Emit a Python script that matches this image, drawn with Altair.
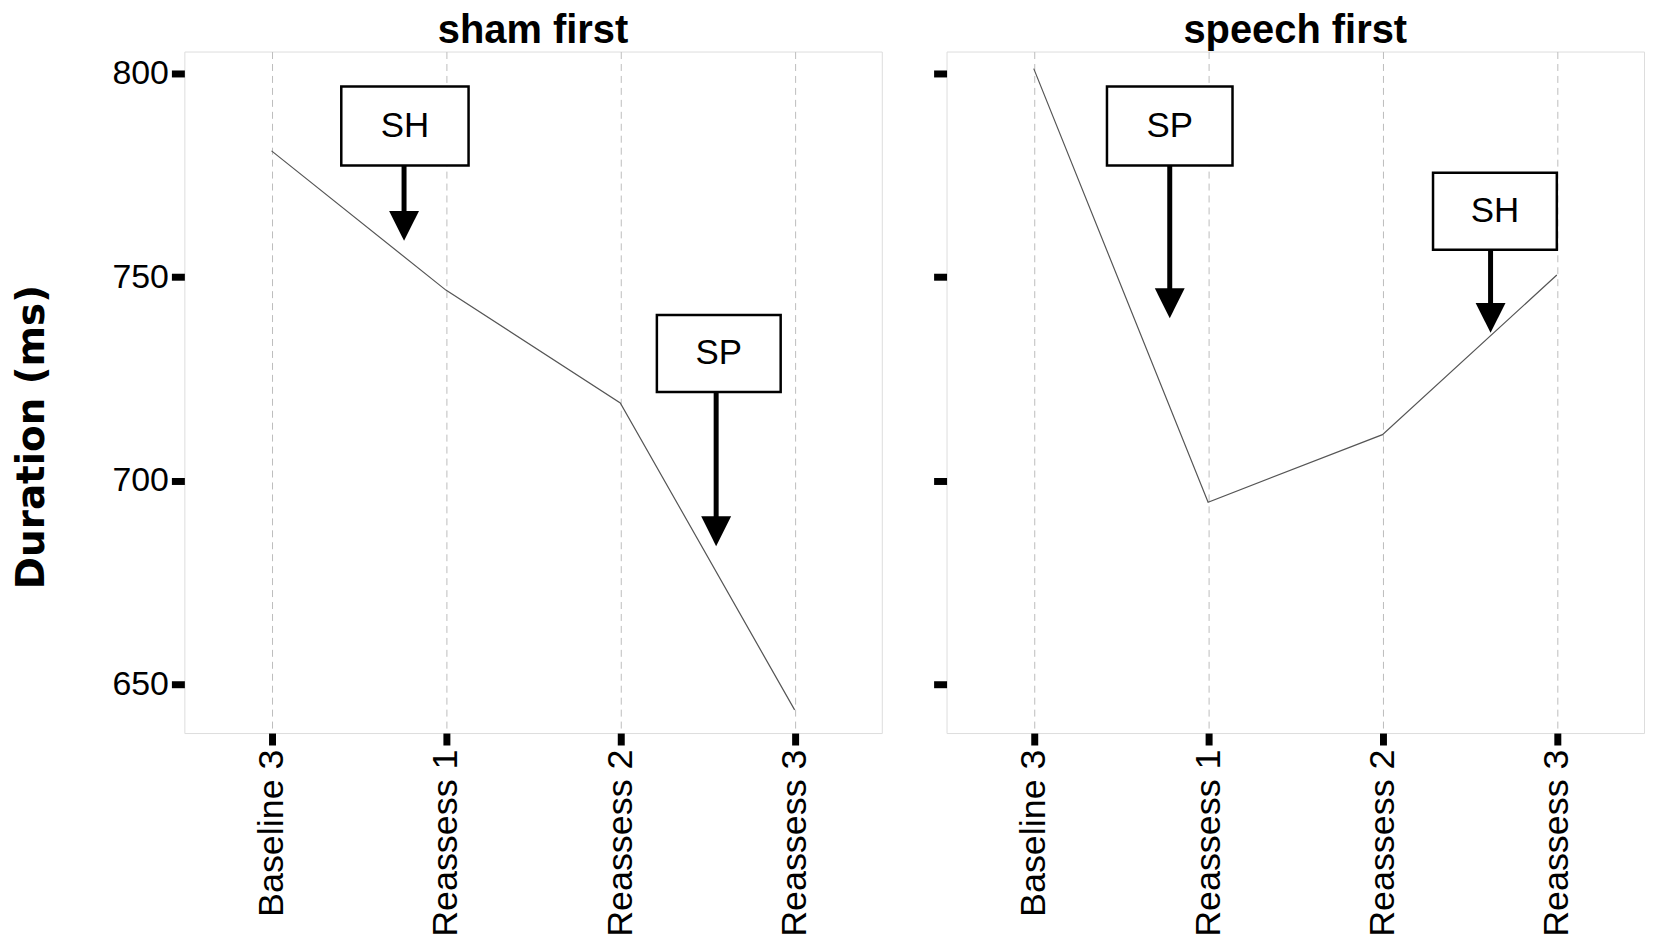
import altair as alt
import pandas as pd

# ---------------- data ----------------
categories = ["Baseline 3", "Reassess 1", "Reassess 2", "Reassess 3"]
panel_titles = ["sham first", "speech first"]
sham_first_ms = [781.0, 746.8, 719.1, 643.7]
speech_first_ms = [801.2, 694.7, 711.3, 750.5]

y_ticks = [650, 700, 750, 800]
y_domain = [638, 805.4]

# annotation boxes (data units: x = category index, y = ms)
sham_ann_labels = ["SH", "SP"]
sham_ann_x_start = [0.40, 2.21]
sham_ann_x_end = [1.13, 2.92]
sham_ann_y_top = [796.8, 740.7]
sham_ann_y_bottom = [777.4, 721.8]
sham_arrow_x = [0.76, 2.55]
sham_arrow_tip = [758.9, 683.9]

speech_ann_labels = ["SP", "SH"]
speech_ann_x_start = [0.42, 2.29]
speech_ann_x_end = [1.14, 3.00]
speech_ann_y_top = [796.8, 775.6]
speech_ann_y_bottom = [777.4, 756.7]
speech_arrow_x = [0.78, 2.62]
speech_arrow_tip = [739.9, 736.3]

# ---------------- helpers ----------------
PLOT_W = 700
PLOT_H = 684

label_expr = "[" + ", ".join(repr(c) for c in categories) + "][datum.value]"
x_scale = alt.Scale(domain=[-0.5, len(categories) - 0.5], nice=False, zero=False)
y_scale = alt.Scale(domain=y_domain, nice=False, zero=False)

x_axis = alt.Axis(
    values=list(range(len(categories))), labelExpr=label_expr, title=None,
    grid=True, gridDash=[7, 5], gridColor="#bdbdbd", gridWidth=1,
    domain=False, ticks=True, tickSize=12, tickWidth=7, tickColor="black",
    labelAngle=-90, labelFontSize=36, labelFont="Liberation Sans",
    labelColor="black", labelPadding=4, labelLimit=400,
)


def y_axis(show_labels):
    common = dict(
        values=y_ticks, grid=False, domain=False, ticks=True, tickSize=13,
        tickWidth=7, tickColor="black",
    )
    if show_labels:
        return alt.Axis(
            labels=True, labelFontSize=34, labelFont="Liberation Sans",
            labelColor="black", labelPadding=3, title="Duration (ms)",
            titleFont="DejaVu Sans", titleFontSize=39, titleFontWeight="bold",
            titleColor="black", titlePadding=61, titleY=PLOT_H * 0.565,
            **common,
        )
    return alt.Axis(labels=False, title=None, **common)


def panel(values, title, labels, xs, xe, yt, yb, ax, tip, show_labels):
    yax = y_axis(show_labels)
    line_df = pd.DataFrame({
        "pos": list(range(len(categories))),
        "category": categories,
        "ms": values,
    })
    ann_df = pd.DataFrame({
        "label": labels, "xs": xs, "xe": xe, "yt": yt, "yb": yb,
        "ax": ax, "tip": tip,
    })
    ann_df["xc"] = (ann_df["xs"] + ann_df["xe"]) / 2
    ann_df["yc"] = (ann_df["yt"] + ann_df["yb"]) / 2
    ann_df["shaft_end"] = ann_df["tip"] + 3

    def X(f):
        return alt.X(f"{f}:Q", scale=x_scale, axis=x_axis)

    def Y(f):
        return alt.Y(f"{f}:Q", scale=y_scale, axis=yax)

    line = alt.Chart(line_df).mark_line(color="#555555", strokeWidth=1.2).encode(
        x=X("pos"), y=Y("ms")
    )
    boxes = alt.Chart(ann_df).mark_rect(
        fill="white", stroke="black", strokeWidth=2.5
    ).encode(x=X("xs"), x2=alt.X2("xe"), y=Y("yt"), y2=alt.Y2("yb"))
    texts = alt.Chart(ann_df).mark_text(
        fontSize=35, font="Liberation Sans", color="black",
        align="center", baseline="middle",
    ).encode(x=X("xc"), y=Y("yc"), text="label:N")
    shafts = alt.Chart(ann_df).mark_rule(color="black", strokeWidth=5).encode(
        x=X("ax"), y=Y("yb"), y2=alt.Y2("shaft_end")
    )
    heads = alt.Chart(ann_df).mark_point(
        shape="M-1,-2L1,-2L0,0Z", filled=True, fill="black", stroke="black",
        strokeWidth=0, size=900, opacity=1,
    ).encode(x=X("ax"), y=Y("tip"))

    return alt.layer(line, boxes, texts, shafts, heads).properties(
        width=PLOT_W, height=PLOT_H,
        title=alt.TitleParams(
            title, fontSize=40, font="Liberation Sans", fontWeight="bold",
            color="black", anchor="middle", offset=1,
        ),
    )


left = panel(sham_first_ms, panel_titles[0], sham_ann_labels, sham_ann_x_start,
             sham_ann_x_end, sham_ann_y_top, sham_ann_y_bottom, sham_arrow_x,
             sham_arrow_tip, True)
right = panel(speech_first_ms, panel_titles[1], speech_ann_labels,
              speech_ann_x_start, speech_ann_x_end, speech_ann_y_top,
              speech_ann_y_bottom, speech_arrow_x, speech_arrow_tip, False)

chart = alt.hconcat(
    left, right, spacing=47,
    padding={"left": 3, "top": 0, "right": 0, "bottom": 0},
).configure_view(
    stroke="#8c8c8c", strokeWidth=1.5
).configure(background="white")

chart.save("out.html", embed_options={"renderer": "svg", "actions": False})
